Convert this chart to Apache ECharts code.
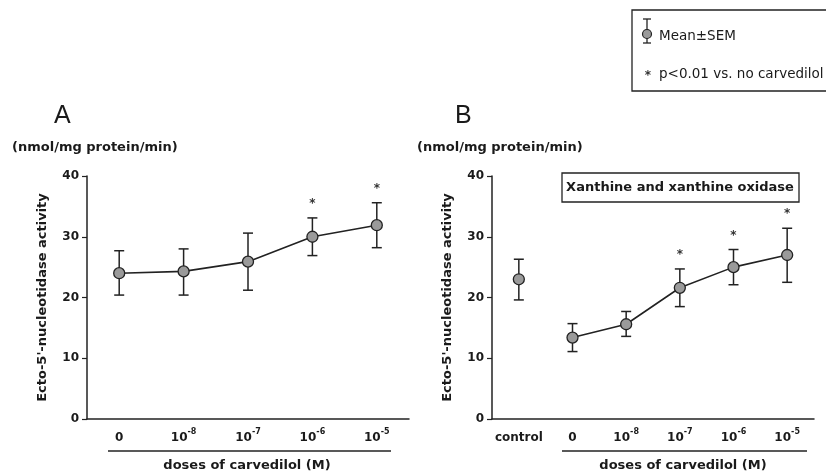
<!DOCTYPE html>
<html><head><meta charset="utf-8">
<script src="https://cdn.jsdelivr.net/npm/echarts@6/dist/echarts.min.js"></script>
<style>html,body{margin:0;padding:0;background:#fff}#c{width:826px;height:473px}</style>
</head><body><div id="c"></div>
<script>
// Panel A
const catsA = ['0', '10^-8', '10^-7', '10^-6', '10^-5'];
const meanA = [24.0, 24.3, 25.9, 30.0, 31.9];
const upA   = [27.7, 28.0, 30.6, 33.1, 35.6];
const loA   = [20.4, 20.4, 21.2, 26.9, 28.2];
const sigA  = [0, 0, 0, 1, 1];
// Panel B
const catsB = ['control', '0', '10^-8', '10^-7', '10^-6', '10^-5'];
const meanB = [23.0, 13.4, 15.6, 21.6, 25.0, 27.0];
const upB   = [26.3, 15.7, 17.7, 24.7, 27.9, 31.4];
const loB   = [19.6, 11.1, 13.6, 18.5, 22.1, 22.5];
const sigB  = [0, 0, 0, 1, 1, 1];
const lineB = [false, true, true, true, true, true]; // control not connected
const yTicks = [0, 10, 20, 30, 40];

const TXT = '#1a1a1a';
const FONT = 'DejaVu Sans, Liberation Sans, sans-serif';
const FONTL = 'Liberation Sans, Arial, sans-serif';

function fmtCat(v) {
  if (v.indexOf('^') >= 0) {
    const p = v.split('^');
    return '{b|' + p[0] + '}{s|' + p[1] + '}';
  }
  return '{b|' + v + '}';
}
const rich = {
  b: {fontSize: 12, fontWeight: 'bold', color: TXT, fontFamily: FONT, lineHeight: 16, verticalAlign: 'bottom'},
  s: {fontSize: 8, fontWeight: 'bold', color: TXT, fontFamily: FONT, lineHeight: 16, verticalAlign: 'top', padding: [0, 0, 6, 0]}
};

function xAxis(idx, cats) {
  return {
    type: 'category', gridIndex: idx, data: cats, boundaryGap: true,
    axisLine: {lineStyle: {color: '#222', width: 1.5}},
    axisTick: {alignWithLabel: true, length: 5, lineStyle: {color: '#222', width: 1.2}},
    axisLabel: {formatter: fmtCat, rich: rich, margin: 9, interval: 0},
    splitLine: {show: false}
  };
}
function yAxis(idx) {
  return {
    type: 'value', gridIndex: idx, min: yTicks[0], max: yTicks[yTicks.length - 1], interval: 10,
    name: 'Ecto-5\'-nucleotidase activity', nameLocation: 'middle', nameGap: 38, nameRotate: 90,
    nameTextStyle: {fontSize: 13, fontWeight: 'bold', color: TXT, fontFamily: FONT},
    axisLine: {show: true, lineStyle: {color: '#222', width: 1.5}},
    axisTick: {show: true, length: 5, lineStyle: {color: '#222', width: 1.2}},
    axisLabel: {fontSize: 12, fontWeight: 'bold', color: TXT, fontFamily: FONT, margin: 8},
    splitLine: {show: false}
  };
}

function errSeries(idx, up, lo, sig, mean) {
  return {
    type: 'custom', xAxisIndex: idx, yAxisIndex: idx, z: 3,
    data: mean.map((m, i) => [i, up[i], lo[i], sig[i]]),
    renderItem: function (params, api) {
      const x = api.value(0);
      const pu = api.coord([x, api.value(1)]);
      const pl = api.coord([x, api.value(2)]);
      const w = 5;
      const st = {stroke: '#222', lineWidth: 1.5};
      const ch = [
        {type: 'line', shape: {x1: pu[0], y1: pu[1], x2: pl[0], y2: pl[1]}, style: st},
        {type: 'line', shape: {x1: pu[0] - w, y1: pu[1], x2: pu[0] + w, y2: pu[1]}, style: st},
        {type: 'line', shape: {x1: pl[0] - w, y1: pl[1], x2: pl[0] + w, y2: pl[1]}, style: st}
      ];
      if (api.value(3)) {
        ch.push({type: 'text', style: {text: '*', x: pu[0], y: pu[1] - 8, align: 'center', verticalAlign: 'bottom',
          fontSize: 12, fontWeight: 'bold', fill: '#333', fontFamily: FONT}});
      }
      return {type: 'group', children: ch};
    }
  };
}
const markerStyle = {color: '#9a9a9a', borderColor: '#222', borderWidth: 1.3, opacity: 1};

const option = {
  animation: false,
  backgroundColor: '#fff',
  grid: [
    {left: 87, top: 176, width: 322, height: 243},
    {left: 492, top: 176, width: 322, height: 243}
  ],
  xAxis: [xAxis(0, catsA), xAxis(1, catsB)],
  yAxis: [yAxis(0), yAxis(1)],
  series: [
    errSeries(0, upA, loA, sigA, meanA),
    {type: 'line', xAxisIndex: 0, yAxisIndex: 0, data: meanA, symbol: 'circle', symbolSize: 11, z: 4,
      lineStyle: {color: '#222', width: 1.6}, itemStyle: markerStyle},
    errSeries(1, upB, loB, sigB, meanB),
    {type: 'line', xAxisIndex: 1, yAxisIndex: 1, data: meanB.map((v, i) => lineB[i] ? v : '-'), symbol: 'circle', symbolSize: 11, z: 4,
      lineStyle: {color: '#222', width: 1.6}, itemStyle: markerStyle},
    {type: 'scatter', xAxisIndex: 1, yAxisIndex: 1, data: meanB.map((v, i) => lineB[i] ? '-' : v), symbol: 'circle', symbolSize: 11, z: 4,
      itemStyle: markerStyle}
  ],
  graphic: [
    {type: 'text', left: 54, top: 104, style: {text: 'A', fontSize: 25, fill: TXT, fontFamily: FONTL}},
    {type: 'text', left: 455, top: 104, style: {text: 'B', fontSize: 25, fill: TXT, fontFamily: FONTL}},
    {type: 'text', left: 12, top: 141, style: {text: '(nmol/mg protein/min)', fontSize: 13, fontWeight: 'bold', fill: TXT, fontFamily: FONT}},
    {type: 'text', left: 417, top: 141, style: {text: '(nmol/mg protein/min)', fontSize: 13, fontWeight: 'bold', fill: TXT, fontFamily: FONT}},
    // underline under doses
    {type: 'line', shape: {x1: 108, y1: 451, x2: 391, y2: 451}, style: {stroke: '#222', lineWidth: 1.5}},
    {type: 'line', shape: {x1: 562, y1: 451, x2: 807, y2: 451}, style: {stroke: '#222', lineWidth: 1.5}},
    {type: 'text', x: 247, y: 466, style: {text: 'doses of carvedilol (M)', align: 'center', verticalAlign: 'middle', fontSize: 13, fontWeight: 'bold', fill: TXT, fontFamily: FONT}},
    {type: 'text', x: 683, y: 466, style: {text: 'doses of carvedilol (M)', align: 'center', verticalAlign: 'middle', fontSize: 13, fontWeight: 'bold', fill: TXT, fontFamily: FONT}},
    // box in B
    {type: 'rect', shape: {x: 562, y: 173, width: 237, height: 29}, style: {fill: '#fff', stroke: '#222', lineWidth: 1.3}, z: 10},
    {type: 'text', x: 680, y: 188, z: 11, style: {text: 'Xanthine and xanthine oxidase', align: 'center', verticalAlign: 'middle', fontSize: 13, fontWeight: 'bold', fill: TXT, fontFamily: FONT}},
    // legend box
    {type: 'rect', shape: {x: 632, y: 10, width: 200, height: 81}, style: {fill: '#fff', stroke: '#222', lineWidth: 1.3}, z: 10},
    {type: 'line', shape: {x1: 647, y1: 19, x2: 647, y2: 43}, style: {stroke: '#222', lineWidth: 1.3}, z: 11},
    {type: 'line', shape: {x1: 643, y1: 19, x2: 651, y2: 19}, style: {stroke: '#222', lineWidth: 1.3}, z: 11},
    {type: 'line', shape: {x1: 643, y1: 43, x2: 651, y2: 43}, style: {stroke: '#222', lineWidth: 1.3}, z: 11},
    {type: 'circle', shape: {cx: 647, cy: 34, r: 4.5}, style: {fill: '#9a9a9a', stroke: '#222', lineWidth: 1.2}, z: 12},
    {type: 'text', x: 659, y: 36, z: 11, style: {text: 'Mean\u00b1SEM', verticalAlign: 'middle', fontSize: 13.5, fill: TXT, fontFamily: FONT}},
    {type: 'text', x: 648, y: 76, z: 11, style: {text: '*', align: 'center', verticalAlign: 'middle', fontSize: 12, fontWeight: 'bold', fill: '#333', fontFamily: FONT}},
    {type: 'text', x: 659, y: 74, z: 11, style: {text: 'p<0.01 vs. no carvedilol', verticalAlign: 'middle', fontSize: 13.5, fill: TXT, fontFamily: FONT}}
  ]
};
const chart = echarts.init(document.getElementById('c'), null, {renderer: 'canvas'});
chart.setOption(option);
</script>
</body></html>
